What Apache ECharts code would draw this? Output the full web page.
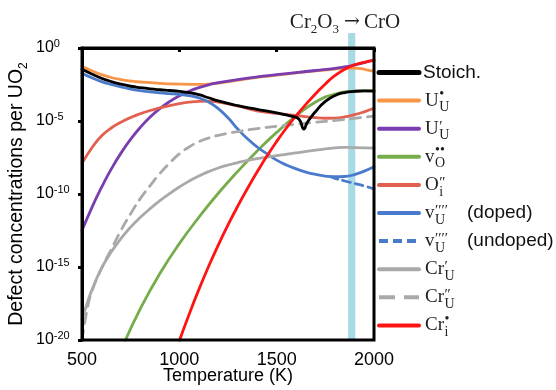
<!DOCTYPE html>
<html>
<head>
<meta charset="utf-8">
<script src="https://cdn.jsdelivr.net/npm/echarts@6/dist/echarts.min.js"></script>
<style>
  html, body { margin: 0; padding: 0; background: #fff; }
  #chart { width: 556px; height: 390px; }
</style>
</head>
<body>
<div id="chart"></div>
<script>
// Defect concentrations in Cr-doped UO2: each point is [temperature (K), log10(concentration per UO2)]
const stoich = [[500,-1.46],[550,-1.78],[600,-2.07],[650,-2.3],[700,-2.48],[750,-2.62],[800,-2.72],[850,-2.8],[900,-2.86],[950,-2.91],[1000,-2.97],[1050,-3.06],[1100,-3.2],[1150,-3.41],[1200,-3.62],[1250,-3.8],[1300,-3.95],[1350,-4.08],[1400,-4.2],[1500,-4.45],[1580,-4.68],[1615,-4.88],[1640,-5.55],[1655,-5.15],[1670,-4.85],[1700,-4.35],[1750,-3.66],[1800,-3.25],[1850,-3.05],[1900,-2.97],[1950,-2.94],[2000,-2.95]];
const uUdot = [[500,-1.25],[550,-1.56],[600,-1.82],[650,-2.02],[700,-2.16],[750,-2.26],[800,-2.33],[900,-2.42],[1000,-2.47],[1100,-2.49],[1150,-2.47],[1200,-2.41],[1300,-2.2],[1400,-2.01],[1500,-1.86],[1600,-1.71],[1700,-1.57],[1800,-1.44],[1850,-1.39],[1900,-1.38],[1950,-1.46],[2000,-1.6]];
const uUprime = [[500,-12.5],[550,-10.95],[600,-9.55],[650,-8.3],[700,-7.2],[750,-6.25],[800,-5.43],[850,-4.73],[900,-4.15],[950,-3.67],[1000,-3.28],[1050,-2.96],[1100,-2.71],[1150,-2.52],[1200,-2.38],[1300,-2.16],[1400,-1.98],[1500,-1.83],[1600,-1.68],[1700,-1.54],[1800,-1.4],[1850,-1.3],[1900,-1.16],[1950,-1.0],[2000,-0.82]];
const vO = [[720,-20.1],[800,-17.85],[900,-15.45],[1000,-13.4],[1100,-11.6],[1200,-9.95],[1300,-8.45],[1400,-7.05],[1500,-5.78],[1600,-4.65],[1700,-3.7],[1800,-3.15],[1900,-2.96],[2000,-2.92]];
const oI = [[500,-7.9],[550,-6.85],[600,-6.03],[650,-5.48],[700,-5.08],[750,-4.76],[800,-4.5],[850,-4.28],[900,-4.1],[950,-3.94],[1000,-3.81],[1050,-3.71],[1100,-3.65],[1150,-3.64],[1200,-3.7],[1250,-3.83],[1300,-3.97],[1400,-4.3],[1500,-4.48],[1600,-4.63],[1700,-4.77],[1750,-4.81],[1800,-4.8],[1850,-4.72],[1900,-4.57],[1950,-4.37],[2000,-4.13]];
const vUdoped = [[500,-1.73],[550,-2.04],[600,-2.3],[650,-2.5],[700,-2.67],[750,-2.81],[800,-2.92],[850,-3.01],[900,-3.08],[950,-3.13],[1000,-3.18],[1050,-3.27],[1100,-3.42],[1150,-3.7],[1200,-4.15],[1250,-4.78],[1300,-5.55],[1350,-6.22],[1400,-6.78],[1450,-7.25],[1500,-7.68],[1550,-8.02],[1600,-8.28],[1650,-8.5],[1700,-8.66],[1750,-8.77],[1800,-8.82],[1850,-8.8],[1900,-8.67],[1950,-8.43],[2000,-8.13]];
const vUundoped = [[1775,-8.8],[1800,-8.93],[1850,-9.11],[1900,-9.28],[1950,-9.45],[2000,-9.65]];
const crUprime = [[500,-18.6],[525,-17.55],[550,-16.6],[600,-15.1],[650,-13.98],[700,-13.05],[750,-12.27],[800,-11.6],[850,-11.0],[900,-10.46],[950,-9.97],[1000,-9.52],[1050,-9.12],[1100,-8.77],[1150,-8.47],[1200,-8.22],[1250,-8.02],[1300,-7.85],[1400,-7.58],[1500,-7.37],[1600,-7.18],[1700,-7.0],[1800,-6.84],[1840,-6.8],[1900,-6.83],[2000,-6.86]];
const crUdouble = [[500,-20],[525,-18.0],[550,-16.7],[600,-15.1],[650,-13.8],[700,-12.5],[750,-11.35],[800,-10.3],[850,-9.43],[900,-8.6],[950,-7.88],[1000,-7.25],[1050,-6.78],[1100,-6.42],[1150,-6.17],[1200,-5.98],[1250,-5.84],[1300,-5.72],[1400,-5.52],[1500,-5.36],[1600,-5.22],[1700,-5.09],[1800,-4.96],[1900,-4.82],[2000,-4.66]];
const crIdot = [[1000,-20.05],[1050,-18.25],[1100,-16.55],[1150,-14.97],[1200,-13.5],[1250,-12.12],[1300,-10.83],[1350,-9.62],[1400,-8.48],[1450,-7.4],[1500,-6.4],[1550,-5.48],[1600,-4.64],[1650,-3.86],[1700,-3.13],[1750,-2.46],[1800,-1.88],[1850,-1.45],[1900,-1.16],[1950,-0.98],[2000,-0.85]];

// Cr2O3 -> CrO transition window (K)
const transitionRange = [1867, 1904];

// Axis ticks
const tempTicks = { min: 500, max: 2000, step: 500 };
const expTicks = { min: -20, max: 0, step: 5 };

const SANS = '"Liberation Sans", Arial, sans-serif';
const SERIF = '"Liberation Serif", "Times New Roman", serif';

const curves = [
  { data: stoich,    color: '#000000', label: { plain: 'Stoich.' }, z: 4, legendWidth: 5 },
  { data: uUdot,     color: '#F79646', label: { base: 'U', sup: '•', sub: 'U' } },
  { data: uUprime,   color: '#7A3DB0', label: { base: 'U', sup: '′', sub: 'U' } },
  { data: vO,        color: '#77AC4C', label: { base: 'v', sup: '••', sub: 'O' } },
  { data: oI,        color: '#E2604F', label: { base: 'O', sup: '″', sub: 'i' } },
  { data: vUdoped,   color: '#4A7ACB', label: { base: 'v', sup: '′′′′', sub: 'U', note: '(doped)' } },
  { data: vUundoped, color: '#4A7ACB', dash: [8, 5], label: { base: 'v', sup: '′′′′', sub: 'U', note: '(undoped)' }, legendDash: [9, 5] },
  { data: crUprime,  color: '#A9A9A9', label: { base: 'Cr', sup: '′', sub: 'U' } },
  { data: crUdouble, color: '#A9A9A9', dash: [10, 7], label: { base: 'Cr', sup: '″', sub: 'U' }, legendDash: [16, 9] },
  { data: crIdot,    color: '#FF1414', label: { base: 'Cr', sup: '•', sub: 'i' }, z: 3 }
];

const chart = echarts.init(document.getElementById('chart'), null, { renderer: 'canvas' });

const lineSeries = curves.map(c => ({
  type: 'line',
  data: c.data,
  symbol: 'none',
  smooth: 0.5,
  z: c.z || 2,
  lineStyle: { color: c.color, width: 2.8, type: c.dash || 'solid', cap: 'round', join: 'round' },
  silent: true
}));

// Transition band, drawn from the x scale and reaching a little above the plot
const bandSeries = {
  type: 'custom',
  z: 1,
  clip: false,
  silent: true,
  data: [transitionRange],
  encode: { x: [0, 1] },
  renderItem: (params, api) => {
    const top = api.coord([api.value(0), expTicks.max]);
    const bottom = api.coord([api.value(1), expTicks.min]);
    return {
      type: 'rect',
      shape: { x: top[0], y: top[1] - 15, width: bottom[0] - top[0], height: bottom[1] - top[1] + 15 },
      style: { fill: '#A8DAE6' }
    };
  }
};

// Legend built as graphic elements so the defect notation can stack super/subscripts
const measureCtx = document.createElement('canvas').getContext('2d');
function textWidth(text, font) { measureCtx.font = font; return measureCtx.measureText(text).width; }

const legendX0 = 379, legendX1 = 419, legendTop = 72.5, legendStep = 28.1;
const legendGraphics = [];
curves.forEach((c, i) => {
  const y = legendTop + i * legendStep;
  legendGraphics.push({
    type: 'line',
    shape: { x1: legendX0, y1: y, x2: legendX1, y2: y },
    style: { stroke: c.color, lineWidth: c.legendWidth || 4, lineDash: c.legendDash || null, lineCap: c.legendDash ? 'butt' : 'round' },
    z: 10
  });
  const lab = c.label;
  if (lab.plain) {
    legendGraphics.push({ type: 'text', x: 423, y: y, z: 10,
      style: { text: lab.plain, font: '19px ' + SANS, fill: '#111', verticalAlign: 'middle', align: 'left' } });
    return;
  }
  const baseFont = '19px ' + SERIF;
  const smallFont = '14px ' + SERIF;
  const bx = 425;
  const bw = textWidth(lab.base, baseFont);
  legendGraphics.push({ type: 'text', x: bx, y: y, z: 10,
    style: { text: lab.base, font: baseFont, fill: '#222', verticalAlign: 'middle', align: 'left' } });
  const isPrime = /[′″]/.test(lab.sup);
  legendGraphics.push({ type: 'text', x: bx + bw + 0.5, y: y + (isPrime ? -2 : -6), z: 10,
    style: { text: lab.sup, font: (isPrime ? '15px ' : '14px ') + SERIF, fill: '#222', verticalAlign: 'middle', align: 'left' } });
  legendGraphics.push({ type: 'text', x: bx + bw + 0.5, y: y + 7, z: 10,
    style: { text: lab.sub, font: smallFont, fill: '#222', verticalAlign: 'middle', align: 'left' } });
  if (lab.note) {
    legendGraphics.push({ type: 'text', x: 467, y: y, z: 10,
      style: { text: lab.note, font: '19px ' + SANS, fill: '#111', verticalAlign: 'middle', align: 'left' } });
  }
});

// Phase-change annotation above the band
legendGraphics.push({
  type: 'text', x: 345, y: 22, z: 10,
  style: {
    text: 'Cr{s|2}O{s|3}{a|→}CrO',
    font: '21px ' + SERIF,
    fill: '#222',
    align: 'center',
    verticalAlign: 'middle',
    lineHeight: 28,
    rich: {
      s: { fontSize: 13, fontFamily: SERIF, lineHeight: 13, verticalAlign: 'bottom' },
      a: { fontSize: 19, fontFamily: '"DejaVu Serif", serif', padding: [0, 4, 0, 5] }
    }
  }
});

chart.setOption({
  animation: false,
  backgroundColor: '#fff',
  grid: {
    left: 82, right: 182, top: 48, bottom: 50,
    containLabel: false, outerBoundsMode: 'none',
    show: true, borderColor: '#000', borderWidth: 3, z: 6
  },
  xAxis: {
    type: 'value',
    min: tempTicks.min, max: tempTicks.max, interval: tempTicks.step,
    z: 6,
    name: 'Temperature (K)',
    nameLocation: 'middle',
    nameGap: 27,
    nameMoveOverlap: false,
    nameTextStyle: { fontFamily: SANS, fontSize: 18, color: '#000' },
    axisLine: { show: true, lineStyle: { color: '#000', width: 3 } },
    axisTick: { show: true, inside: false, length: 4, lineStyle: { color: '#000', width: 3 } },
    axisLabel: { fontFamily: SANS, fontSize: 18, color: '#000', margin: 11, formatter: v => String(v) },
    splitLine: { show: false }
  },
  yAxis: {
    type: 'value',
    min: expTicks.min, max: expTicks.max, interval: expTicks.step,
    z: 6,
    name: 'Defect concentrations per UO{s|2}',
    nameLocation: 'middle',
    nameRotate: 90,
    nameGap: 52,
    nameMoveOverlap: false,
    nameTextStyle: {
      fontFamily: SANS, fontSize: 19.5, color: '#000', lineHeight: 26,
      rich: { s: { fontFamily: SANS, fontSize: 12, lineHeight: 12, verticalAlign: 'bottom' } }
    },
    axisLine: { show: true, lineStyle: { color: '#000', width: 3 } },
    axisTick: { show: true, inside: false, length: 4, lineStyle: { color: '#000', width: 3 } },
    axisLabel: {
      align: 'left',
      margin: 46,
      formatter: v => '{b|10}{s|' + v + '}',
      rich: {
        b: { fontFamily: SANS, fontSize: 16, color: '#000', lineHeight: 20 },
        s: { fontFamily: SANS, fontSize: 11, color: '#000', lineHeight: 11, verticalAlign: 'top' }
      }
    },
    splitLine: { show: false }
  },
  series: [bandSeries].concat(lineSeries),
  graphic: legendGraphics
});
</script>
</body>
</html>
